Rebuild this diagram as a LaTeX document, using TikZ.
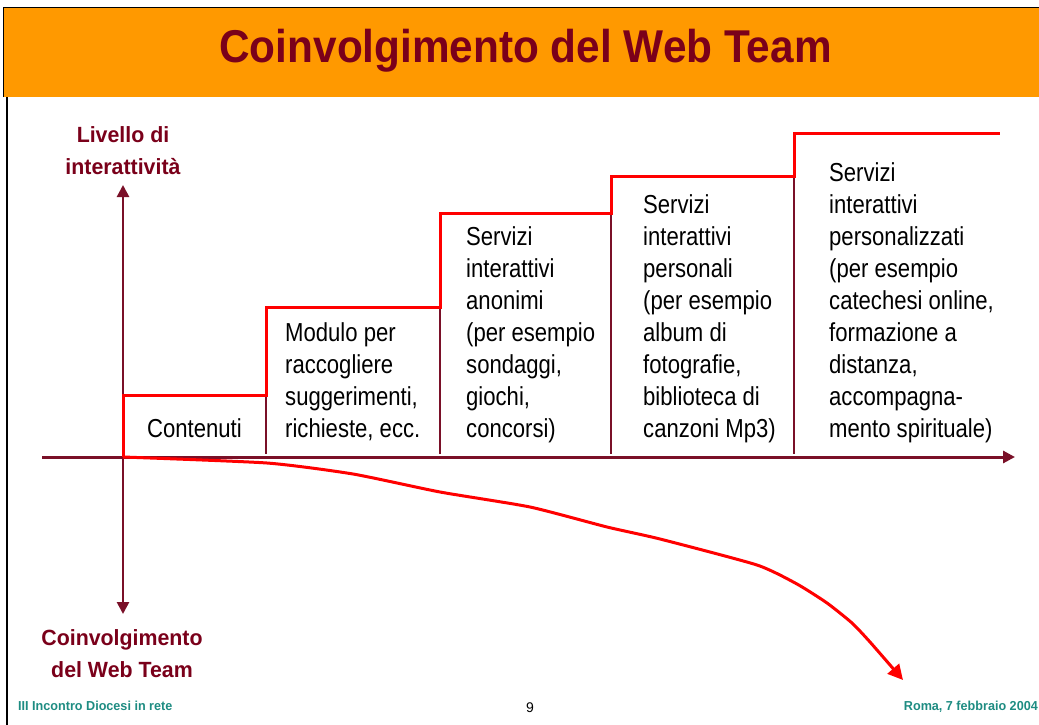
\documentclass[tikz,border=0pt]{standalone}
\usepackage{fontspec}
\setmainfont{Liberation Sans}
\newfontfamily\bodyfont[FakeStretch=0.85]{Liberation Sans}
\newfontfamily\titlefont[FakeStretch=0.92]{Liberation Sans}
\newfontfamily\labelfont[FakeStretch=0.97]{Liberation Sans}
\usetikzlibrary{arrows.meta}
\definecolor{hdrorange}{RGB}{255,153,0}
\definecolor{titlemaroon}{RGB}{122,0,26}
\definecolor{axismaroon}{RGB}{122,16,40}
\definecolor{footteal}{RGB}{30,140,130}
\tikzset{
  coltext/.style={font=\bodyfont\fontsize{26}{32}\selectfont, align=left, inner sep=0pt, anchor=base west, text=black},
  axislabel/.style={font=\labelfont\bfseries\fontsize{22}{32}\selectfont, align=center, inner sep=0pt, anchor=base, text=titlemaroon},
  foottext/.style={font=\labelfont\bfseries\fontsize{13}{15}\selectfont, inner sep=0pt, text=footteal},
  axisline/.style={draw=axismaroon, line width=2.6pt},
  divider/.style={draw=axismaroon, line width=2.3pt},
  stepline/.style={draw=red, line width=3pt, line join=miter},
}
\begin{document}
\begin{tikzpicture}[x=1pt,y=-1pt]
\useasboundingbox (0,0) rectangle (1039,725);
% header
\fill[hdrorange] (4,8) rectangle (1039,97);
\draw[black, line width=1.5pt] (3.5,97) -- (3.5,7.5) -- (1039,7.5);
\draw[black, line width=1.5pt] (7,97) -- (7,725);
\node[font=\titlefont\bfseries\fontsize{46}{50}\selectfont, text=titlemaroon, anchor=base, inner sep=0pt] (title) at (525.5,63) {Coinvolgimento del Web Team};

% coordinates
\coordinate (O) at (123,457);
\coordinate (hL) at (42,457);
\coordinate (hR) at (1015,457);
\coordinate (vU) at (123,185);
\coordinate (vD) at (123,614);
\coordinate (s1) at (123,395);
\coordinate (s1r) at (266,395);
\coordinate (s2) at (266,307);
\coordinate (s2r) at (440,307);
\coordinate (s3) at (440,213);
\coordinate (s3r) at (611,213);
\coordinate (s4) at (611,176);
\coordinate (s4r) at (794,176);
\coordinate (s5) at (794,133);
\coordinate (s5r) at (1000,133);
\coordinate (b1) at (266,454);
\coordinate (b2) at (440,454);
\coordinate (b3) at (611,454);
\coordinate (b4) at (794,454);
\coordinate (cEnd) at (903,680);

% dividers
\draw[divider] (s1r) -- (b1);
\draw[divider] (s2r) -- (b2);
\draw[divider] (s3r) -- (b3);
\draw[divider] (s4r) -- (b4);

% axes
\draw[axisline, line width=3pt, -{Triangle[length=12pt,width=12pt]}] (hL) -- (hR);
\draw[axisline, {Triangle[length=12pt,width=12pt]}-{Triangle[length=12pt,width=12pt]}] (vD) -- (vU);

% step line
\draw[stepline] (O) -- (s1) -- (s1r) -- (s2) -- (s2r) -- (s3) -- (s3r) -- (s4) -- (s4r) -- (s5) -- (s5r);

% curve
\draw[draw=red, line width=3pt, line join=round, -{Triangle[length=15pt,width=15pt]}]
  plot[smooth, tension=0.35] coordinates {(O) (267,463) (353,474) (440,492) (530,507) (607,527) (660,539) (757,565) (797,584) (827,603) (852,623) (870,642) (cEnd)};

% axis labels
\node[axislabel] (ylab) at (123,174) {Livello di\\interattività};
\node[axislabel] (nlab) at (122,677) {Coinvolgimento\\del Web Team};

% column texts (anchored at last baseline)
\node[coltext] (c1) at (147,437) {Contenuti};
\node[coltext] (c2) at (285,437) {Modulo per\\raccogliere\\suggerimenti,\\richieste, ecc.};
\node[coltext] (c3) at (466,437) {Servizi\\interattivi\\anonimi\\(per esempio\\sondaggi,\\giochi,\\concorsi)};
\node[coltext] (c4) at (643,437) {Servizi\\interattivi\\personali\\(per esempio\\album di\\fotografie,\\biblioteca di\\canzoni Mp3)};
\node[coltext] (c5) at (829,437) {Servizi\\interattivi\\personalizzati\\(per esempio\\catechesi online,\\formazione a\\distanza,\\accompagna-\\mento spirituale)};

% footer
\node[foottext, anchor=base west] (fl) at (18,710) {III Incontro Diocesi in rete};
\node[foottext, anchor=base east] (fr) at (1038,710) {Roma, 7 febbraio 2004};
\node[font=\fontsize{14}{16}\selectfont, inner sep=0pt, anchor=base] (pg) at (530,712) {9};
\end{tikzpicture}
\end{document}
